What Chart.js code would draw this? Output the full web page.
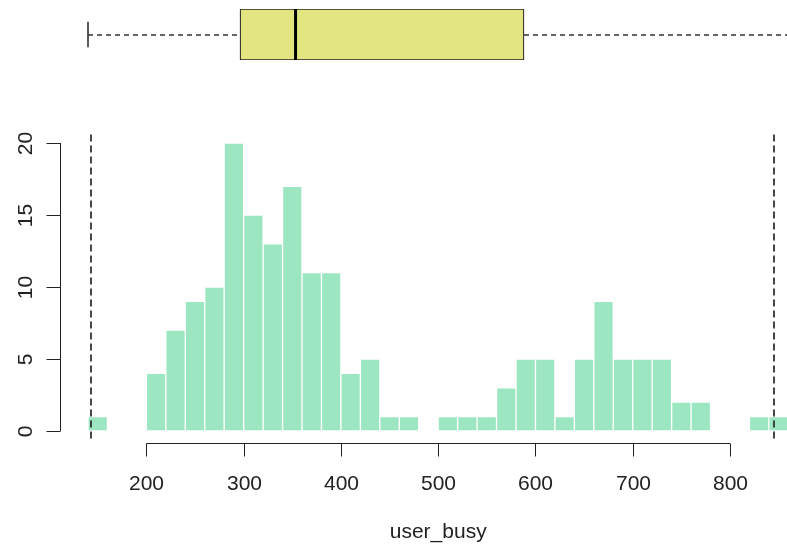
<!DOCTYPE html>
<html>
<head>
<meta charset="utf-8">
<script src="https://cdn.jsdelivr.net/npm/chart.js@4.4.1/dist/chart.umd.min.js"></script>
<style>
  html, body { margin: 0; padding: 0; background: #fff; }
  #wrap { position: relative; width: 787px; height: 545px; overflow: hidden; }
  canvas { position: absolute; left: 0; }
  #c-box { top: 0; }
  #c-hist { top: 70px; }
</style>
</head>
<body>
<div id="wrap">
  <canvas id="c-box" width="787" height="70"></canvas>
  <canvas id="c-hist" width="787" height="475"></canvas>
</div>
<script>
// ── DATA ────────────────────────────────────────────────────
const breaks = [140, 160, 180, 200, 220, 240, 260, 280, 300, 320, 340, 360, 380, 400, 420, 440, 460, 480,
                500, 520, 540, 560, 580, 600, 620, 640, 660, 680, 700, 720, 740, 760, 780, 800, 820, 840, 860];
const counts = [1, 0, 0, 4, 7, 9, 10, 20, 15, 13, 17, 11, 11, 4, 5, 1, 1, 0,
                1, 1, 1, 3, 5, 5, 1, 5, 9, 5, 5, 5, 2, 2, 0, 0, 1, 1];
const xTicks = [200, 300, 400, 500, 600, 700, 800];
const yTicks = [0, 5, 10, 15, 20];
// min, Q1, median, Q3, max
const boxStats = [143.4, 295.8, 351.5, 580.6, 845.3];
const xTitle = 'user_busy';

const barFill = '#9CE6C1', boxFill = '#E3E581';
const ink = '#222', dashInk = '#333';
const font = '21px "Liberation Sans", Arial, sans-serif';

// ── BOXPLOT (top) ───────────────────────────────────────────
const boxExtras = {
  id: 'boxExtras',
  afterDatasetsDraw(chart) {
    const { ctx } = chart, x = chart.scales.x;
    const bar = chart.getDatasetMeta(0).data[0];
    const top = bar.y - bar.height / 2, bot = bar.y + bar.height / 2, cy = Math.round(bar.y);
    const [mn, q1, md, q3, mx] = boxStats.map(v => x.getPixelForValue(v));
    ctx.save();
    // whiskers
    ctx.strokeStyle = dashInk; ctx.lineWidth = 1.6;
    ctx.setLineDash([5, 4]);
    ctx.beginPath();
    ctx.moveTo(mn, cy); ctx.lineTo(q1, cy);
    ctx.moveTo(q3, cy); ctx.lineTo(mx, cy);
    ctx.stroke();
    ctx.setLineDash([]);
    const h = bar.height / 4;
    ctx.beginPath();
    ctx.moveTo(Math.round(mn), bar.y - h); ctx.lineTo(Math.round(mn), bar.y + h);
    ctx.moveTo(Math.round(mx), bar.y - h); ctx.lineTo(Math.round(mx), bar.y + h);
    ctx.stroke();
    // median
    ctx.strokeStyle = '#000'; ctx.lineWidth = 3;
    ctx.beginPath(); ctx.moveTo(md, top); ctx.lineTo(md, bot); ctx.stroke();
    ctx.restore();
  }
};

new Chart(document.getElementById('c-box'), {
  type: 'bar',
  data: {
    labels: [xTitle],
    datasets: [{ data: [[boxStats[1], boxStats[3]]], backgroundColor: boxFill, borderColor: ink,
                 borderWidth: 1.2, borderSkipped: false, barPercentage: 1, categoryPercentage: 1 }]
  },
  options: {
    indexAxis: 'y',
    responsive: false, animation: false,
    layout: { padding: { left: 60, right: 0, top: 9, bottom: 10 } },
    plugins: { legend: { display: false }, tooltip: { enabled: false } },
    scales: {
      x: { type: 'linear', min: 115.3, max: 844.3, display: false },
      y: { display: false }
    }
  },
  plugins: [boxExtras]
});

// ── HISTOGRAM (bottom) ──────────────────────────────────────
const rAxes = {
  id: 'rAxes',
  afterDraw(chart) {
    const { ctx, chartArea: a } = chart, x = chart.scales.x, y = chart.scales.y;
    ctx.save();

    // range markers
    ctx.strokeStyle = dashInk; ctx.lineWidth = 1.8;
    ctx.setLineDash([7, 4]);
    [boxStats[0], boxStats[4]].forEach(v => {
      const px = Math.round(x.getPixelForValue(v));
      ctx.beginPath(); ctx.moveTo(px, a.top + 3); ctx.lineTo(px, a.bottom); ctx.stroke();
    });
    ctx.setLineDash([]);

    ctx.strokeStyle = ink; ctx.fillStyle = ink; ctx.lineWidth = 1; ctx.font = font;
    // x axis
    const ay = Math.round(a.bottom) + 0.5;
    const x0 = x.getPixelForValue(xTicks[0]), x1 = x.getPixelForValue(xTicks[xTicks.length - 1]);
    ctx.beginPath(); ctx.moveTo(x0, ay); ctx.lineTo(x1, ay); ctx.stroke();
    ctx.textAlign = 'center'; ctx.textBaseline = 'alphabetic';
    xTicks.forEach(v => {
      const px = Math.round(x.getPixelForValue(v)) + 0.5;
      ctx.beginPath(); ctx.moveTo(px, ay); ctx.lineTo(px, ay + 13); ctx.stroke();
      ctx.fillText(String(v), px, ay + 46);
    });
    ctx.fillText(xTitle, x.getPixelForValue((xTicks[0] + xTicks[xTicks.length - 1]) / 2), ay + 94);

    // y axis
    const ax = Math.round(a.left) + 0.5;
    const y0 = y.getPixelForValue(yTicks[0]), y1 = y.getPixelForValue(yTicks[yTicks.length - 1]);
    ctx.beginPath(); ctx.moveTo(ax, y0); ctx.lineTo(ax, y1); ctx.stroke();
    yTicks.forEach(v => {
      const py = Math.round(y.getPixelForValue(v)) + 0.5;
      ctx.beginPath(); ctx.moveTo(ax, py); ctx.lineTo(ax - 14, py); ctx.stroke();
      ctx.save();
      ctx.translate(32, py); ctx.rotate(-Math.PI / 2);
      ctx.fillText(String(v), 0, 0);
      ctx.restore();
    });
    ctx.restore();
  }
};

new Chart(document.getElementById('c-hist'), {
  type: 'bar',
  data: {
    datasets: [{
      data: counts.map((c, i) => ({ x: (breaks[i] + breaks[i + 1]) / 2, y: c })),
      backgroundColor: barFill, borderColor: '#fff', borderWidth: 1, borderSkipped: false,
      barPercentage: 1, categoryPercentage: 1
    }]
  },
  options: {
    responsive: false, animation: false,
    layout: { padding: { left: 60, right: 0, top: 61.5, bottom: 102.5 } },
    plugins: { legend: { display: false }, tooltip: { enabled: false } },
    scales: {
      x: { type: 'linear', min: 111.2, max: 858.6, offset: false, display: false },
      y: { min: -0.8, max: 20.8, display: false }
    }
  },
  plugins: [rAxes]
});
</script>
</body>
</html>
